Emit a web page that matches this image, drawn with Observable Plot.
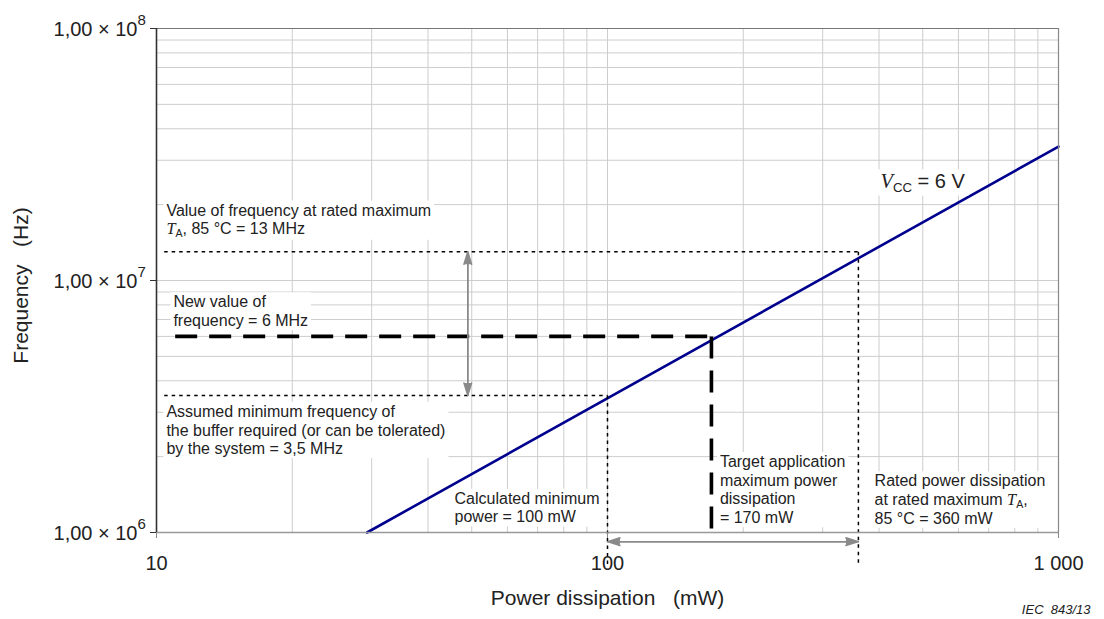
<!DOCTYPE html>
<html><head><meta charset="utf-8">
<script src="https://cdn.jsdelivr.net/npm/d3@7"></script>
<script src="https://cdn.jsdelivr.net/npm/@observablehq/plot@0.6"></script>
<style>
body{margin:0;background:#fff;}
#chart svg{display:block;}
</style>
</head><body><div id="chart"></div>
<script>
// ---- data ----
const xTicks = [10, 100, 1000];
const xTickLabels = ["10", "100", "1\u00a0000"];
const yTicks = [1e6, 1e7, 1e8];
const yTickMantissa = ["1,00 \u00d7 10", "1,00 \u00d7 10", "1,00 \u00d7 10"];
const yTickExponent = ["6", "7", "8"];
const xGrid = [20, 30, 40, 50, 60, 70, 80, 90, 100, 200, 300, 400, 500, 600, 700, 800, 900];
const yGrid = [2e6, 3e6, 4e6, 5e6, 6e6, 7e6, 8e6, 9e6, 1e7, 2e7, 3e7, 4e7, 5e7, 6e7, 7e7, 8e7, 9e7];

// Vcc = 6 V characteristic
const curvePower = [29.3, 1000];
const curveFreq = [1.0e6, 3.4e7];

// dotted reference lines (13 MHz / 360 mW and 3,5 MHz / 100 mW)
const dottedX1 = [10.4, 360, 10.4, 100];
const dottedY1 = [13e6, 13e6, 3.5e6, 3.5e6];
const dottedX2 = [360, 360, 100, 100];
const dottedY2 = [13e6, 7.4e5, 3.5e6, 7.4e5];

// dashed target lines (6 MHz / 170 mW)
const dashedX1 = [11, 170];
const dashedY1 = [6e6, 6e6];
const dashedX2 = [170, 170];
const dashedY2 = [6e6, 1e6];

// grey double arrows
const arrowX1 = [49, 100];
const arrowY1 = [13e6, 9.2e5];
const arrowX2 = [49, 360];
const arrowY2 = [3.5e6, 9.2e5];

// annotations
const noteText = [
  "Value of frequency at rated maximum\nT_A, 85 \u00b0C = 13 MHz",
  "New value of\nfrequency = 6 MHz",
  "Assumed minimum frequency of\nthe buffer required (or can be tolerated)\nby the system = 3,5 MHz",
  "Calculated minimum\npower = 100 mW",
  "Target application\nmaximum power\ndissipation\n= 170 mW",
  "Rated power dissipation\nat rated maximum T_A,\n85 \u00b0C = 360 mW"
];
const noteX = [10.52, 10.9, 10.52, 45.8, 177.5, 391];
const noteY = [2.045e7, 8.84e6, 3.25e6, 1.468e6, 2.053e6, 1.72e6];

const curveLabel = ["V_CC = 6 V"];
const curveLabelX = [403];
const curveLabelY = [2.32e7];

const xTitle = "Power dissipation\u00a0\u00a0 (mW)";
const yTitle = "Frequency\u00a0\u00a0 (Hz)";
const source = "IEC\u00a0 843/13";

// ---- chart ----
const font = "'Liberation Sans', Arial, Helvetica, sans-serif";
const ink = "#222";
const gridColor = "#cdcdcd";
const arrowGrey = "#8a8a8a";
const curve = curvePower.map((p, i) => ({p, f: curveFreq[i]}));
const arrowIdx = arrowX1.map((_, i) => i);

const plot = Plot.plot({
  width: 1104, height: 619,
  marginLeft: 156, marginRight: 46, marginTop: 28, marginBottom: 87,
  x: {type: "log", domain: [10, 1000]},
  y: {type: "log", domain: [1e6, 1e8]},
  style: {fontFamily: font, fontSize: "16px", color: ink, background: "#fff", overflow: "visible"},
  marks: [
    Plot.ruleX(xGrid, {stroke: gridColor, strokeWidth: 1}),
    Plot.ruleY(yGrid, {stroke: gridColor, strokeWidth: 1}),
    Plot.line(curve, {x: "p", y: "f", stroke: "#00008f", strokeWidth: 2.6}),
    Plot.link(dottedX1, {x1: dottedX1, y1: dottedY1, x2: dottedX2, y2: dottedY2, stroke: "#000", strokeWidth: 1.5, strokeDasharray: "3.5,4"}),
    Plot.link(dashedX1, {x1: dashedX1, y1: dashedY1, x2: dashedX2, y2: dashedY2, stroke: "#000", strokeWidth: 3.6, strokeDasharray: "22,12"}),
    // double-headed grey arrows: one arrow each way over the same segment
    Plot.arrow(arrowIdx, {x1: i => arrowX1[i], y1: i => arrowY1[i], x2: i => arrowX2[i], y2: i => arrowY2[i], stroke: arrowGrey, fill: arrowGrey, strokeWidth: 1.5, headLength: 13, headAngle: 34}),
    Plot.arrow(arrowIdx, {x1: i => arrowX2[i], y1: i => arrowY2[i], x2: i => arrowX1[i], y2: i => arrowY1[i], stroke: arrowGrey, fill: arrowGrey, strokeWidth: 1.5, headLength: 13, headAngle: 34}),
    Plot.text(noteText, {x: noteX, y: noteY, text: d => d, textAnchor: "start", lineAnchor: "top", lineHeight: 1.17, fontSize: 16, fill: ink, ariaDescription: "boxed"}),
    Plot.text(curveLabel, {x: curveLabelX, y: curveLabelY, text: d => d, textAnchor: "start", lineAnchor: "bottom", fontSize: 20, fill: ink, ariaDescription: "boxed"}),
    // frame
    Plot.ruleY([1e8], {stroke: "#777", strokeWidth: 1.2}),
    Plot.ruleX([1000], {stroke: "#888", strokeWidth: 1.2}),
    Plot.ruleY([1e6], {stroke: "#999", strokeWidth: 1.6}),
    Plot.ruleX([10], {stroke: "#333", strokeWidth: 1.6}),
    // axes ticks
    Plot.axisX({ticks: xTicks, tickSize: 6, tickFormat: () => "", label: null, stroke: "#888"}),
    Plot.axisY({ticks: yTicks, tickSize: 6, tickFormat: () => "", label: null, stroke: "#333"}),
    // tick labels
    Plot.text(xTicks, {x: d => d, text: (d, i) => xTickLabels[i], frameAnchor: "bottom", textAnchor: "middle", lineAnchor: "top", dy: 23, fontSize: 20, fill: ink}),
    Plot.text(yTicks, {y: d => d, text: (d, i) => yTickMantissa[i], frameAnchor: "left", textAnchor: "end", dx: -19, dy: 1.5, fontSize: 20, fill: ink}),
    Plot.text(yTicks, {y: d => d, text: (d, i) => yTickExponent[i], frameAnchor: "left", textAnchor: "start", dx: -19, dy: -8, fontSize: 15, fill: ink}),
    // titles
    Plot.text([xTitle], {text: d => d, frameAnchor: "bottom", textAnchor: "middle", lineAnchor: "top", dy: 58, fontSize: 21, fill: ink}),
    Plot.text([yTitle], {text: d => d, frameAnchor: "left", textAnchor: "middle", rotate: -90, dx: -135, dy: 5, fontSize: 21, fill: ink}),
    Plot.text([source], {text: d => d, frameAnchor: "bottom-right", textAnchor: "end", lineAnchor: "bottom", dx: 32, dy: 81, fontSize: 13, fontStyle: "italic", fill: ink})
  ]
});

document.getElementById("chart").appendChild(plot);
const svg = d3.select(plot);
const NS = "http://www.w3.org/2000/svg";

// italic symbol + subscript (e.g. T_A, V_CC)
function richify(node, fs) {
  const s = node.textContent;
  const m = s.match(/^(.*?)([A-Z])_([A-Z]+)(.*)$/);
  if (!m) return;
  const [, pre, sym, sub, post] = m;
  node.textContent = "";
  if (pre) node.appendChild(document.createTextNode(pre));
  const t1 = document.createElementNS(NS, "tspan");
  t1.setAttribute("font-family", "'Liberation Serif', 'Times New Roman', serif");
  t1.setAttribute("font-style", "italic");
  t1.setAttribute("font-size", fs * 1.02);
  t1.textContent = sym;
  node.appendChild(t1);
  const t2 = document.createElementNS(NS, "tspan");
  t2.setAttribute("font-size", fs * 0.66);
  t2.setAttribute("dy", fs * 0.16);
  t2.textContent = sub;
  node.appendChild(t2);
  const t3 = document.createElementNS(NS, "tspan");
  t3.setAttribute("dy", -fs * 0.16);
  t3.textContent = post;
  node.appendChild(t3);
}

svg.selectAll("g[aria-description='boxed'] text").each(function () {
  const fs = parseFloat(getComputedStyle(this).fontSize) || 16;
  const tsp = this.querySelectorAll("tspan");
  if (tsp.length) tsp.forEach(t => richify(t, fs));
  else richify(this, fs);
});

// white boxes behind annotations
svg.selectAll("g[aria-description='boxed'] text").each(function () {
  const b = this.getBBox();
  const r = document.createElementNS(NS, "rect");
  r.setAttribute("x", b.x - 3);
  r.setAttribute("y", b.y - 1);
  r.setAttribute("width", b.width + 6);
  r.setAttribute("height", b.height + 2);
  r.setAttribute("fill", "#fff");
  r.setAttribute("stroke", "none");
  const tr = this.getAttribute("transform");
  if (tr) r.setAttribute("transform", tr);
  this.parentNode.insertBefore(r, this);
});
</script>
</body></html>
